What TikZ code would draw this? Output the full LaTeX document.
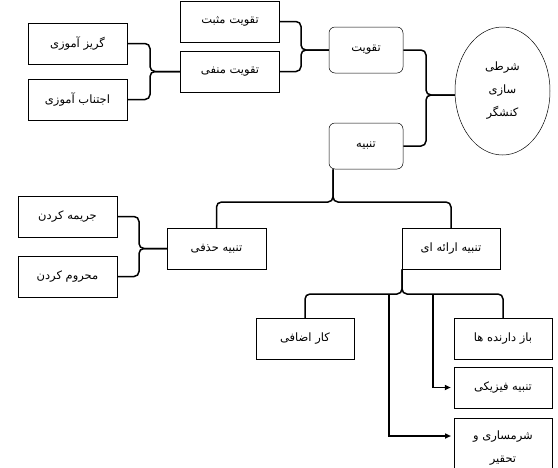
\documentclass[tikz,border=0pt]{standalone}
\usepackage{fontspec}
\newfontfamily\farsi[Script=Arabic]{DejaVu Sans}
\TeXXeTstate=1
\usetikzlibrary{shapes.geometric,arrows.meta}

\begin{document}
\begin{tikzpicture}[
  x=1pt, y=-1pt,
  every node/.style={inner sep=1pt, font=\farsi\fontsize{11.5}{23}\selectfont},
  box/.style={draw, line width=0.5pt, minimum width=99pt, minimum height=41pt, align=center},
  rbox/.style={box, rounded corners=6pt, minimum width=74pt, minimum height=46pt},
  oval/.style={ellipse, draw, line width=0.5pt, minimum width=95pt, minimum height=128pt, inner sep=0pt, align=center},
  % the curly joints are drawn as thick lines with rounded corners
  brace/.style={draw, line width=1.5pt, rounded corners=5pt},
  arrow/.style={draw, line width=1.5pt, -{Triangle[length=6pt,width=5pt]}, shorten >=3pt}]

  \useasboundingbox (0,0) rectangle (558,467);

  % vertices
  \node[box]  (mosbat)  at (230,21.5)  {\beginR تقویت مثبت\endR};
  \node[box]  (manfi)   at (230,71.5)  {\beginR تقویت منفی\endR};
  \node[box]  (gorize)  at (77.5,43.5) {\beginR گریز آموزی\endR};
  \node[box]  (ejtenab) at (77.5,99.5) {\beginR اجتناب آموزی\endR};
  \node[rbox] (taghviat) at (366,50)   {\beginR تقویت\endR};
  \node[rbox] (tanbih)   at (366,146)  {\beginR تنبیه\endR};
  \node[oval] (shart)    at (502.5,91)
    {\beginR شرطی\endR\\\beginR سازی\endR\\\beginR کنشگر\endR};
  \node[box]  (jarime)  at (67.5,216.5) {\beginR جریمه کردن\endR};
  \node[box]  (mahroom) at (67.5,276.5) {\beginR محروم کردن\endR};
  \node[box]  (hazfi)   at (216.5,248.5) {\beginR تنبیه حذفی\endR};
  \node[box, minimum width=98pt] (eraee)    at (451,248.5) {\beginR تنبیه ارائه ای\endR};
  \node[box, minimum width=98pt] (karezafi) at (305,338.5) {\beginR کار اضافی\endR};
  \node[box, minimum width=98pt] (bazdarande) at (503,338.5) {\beginR باز دارنده ها\endR};
  \node[box, minimum width=98pt] (fiziki)   at (503,387.5) {\beginR تنبیه فیزیکی\endR};
  \node[box, minimum width=98pt, minimum height=60pt, anchor=north] (sharmsari) at (503,418)
    {\beginR شرمساری و\endR\\\beginR تحقیر\endR};

  % joints
  \coordinate (t1) at (150,71.5);
  \coordinate (t2) at (301,50);
  \coordinate (t3) at (426,95);
  \coordinate (t4) at (333,202);
  \coordinate (t5) at (402,294);
  \coordinate (t6) at (139,248.5);
  \coordinate (a1) at (433,294);
  \coordinate (a2) at (389,294);
  \coordinate (s1) at (454,436);

  % braces
  \draw[brace] (gorize.east)  -| (t1) -- (manfi.west);
  \draw[brace] (ejtenab.east) -| (t1) -- (manfi.west);
  \draw[brace] (mosbat.east)  -| (t2) -- (taghviat.west);
  \draw[brace] (manfi.east)   -| (t2) -- (taghviat.west);
  \draw[brace] (taghviat.east) -| (t3) -- (t3 -| shart.west);
  \draw[brace] (tanbih.east)   -| (t3) -- (t3 -| shart.west);
  \draw[brace] (hazfi.north) |- (t4) -- (t4 |- tanbih.south);
  \draw[brace] (eraee.north) |- (t4) -- (t4 |- tanbih.south);
  \draw[brace] (jarime.east)  -| (t6) -- (hazfi.west);
  \draw[brace] (mahroom.east) -| (t6) -- (hazfi.west);
  \draw[brace] (karezafi.north)   |- (t5) -- (t5 |- eraee.south);
  \draw[brace] (bazdarande.north) |- (t5) -- (t5 |- eraee.south);

  % arrows
  \draw[arrow] (a1) |- (fiziki.west);
  \draw[arrow] (a2) |- (s1);
\end{tikzpicture}
\end{document}
